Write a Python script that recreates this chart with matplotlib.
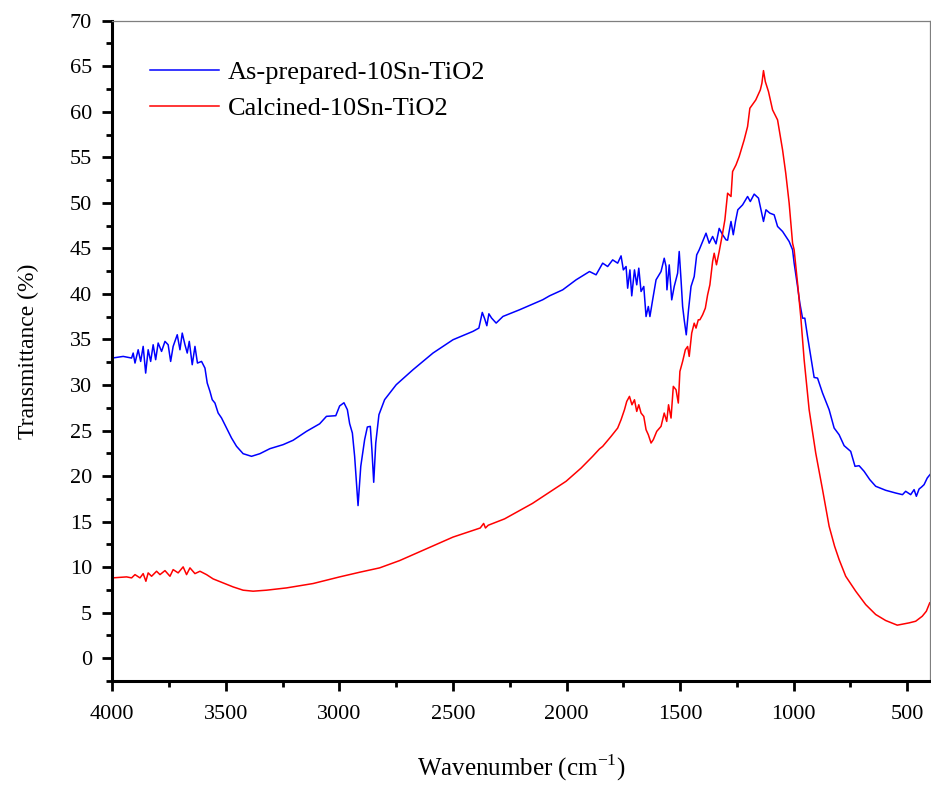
import matplotlib
matplotlib.use("Agg")
import matplotlib.pyplot as plt
from matplotlib.ticker import MultipleLocator

## FTIR spectra (wavenumber in cm-1, transmittance in %)
blue_wn = [4000, 3952, 3915, 3908, 3900, 3886, 3875, 3864, 3853, 3842, 3831, 3820,
           3809, 3798, 3783, 3768, 3754, 3743, 3732, 3714, 3702, 3692, 3680, 3670,
           3661, 3648, 3636, 3625, 3607, 3592, 3582, 3570, 3560, 3548, 3534, 3519,
           3497, 3475, 3453, 3424, 3387, 3350, 3306, 3248, 3204, 3145, 3087, 3057,
           3016, 2999, 2980, 2965, 2955, 2943, 2933, 2918, 2906, 2889, 2877, 2864,
           2857, 2849, 2840, 2826, 2801, 2750, 2676, 2588, 2500, 2412, 2386, 2371,
           2360, 2351, 2342, 2330, 2310, 2280, 2207, 2105, 2075, 2017, 1958, 1899,
           1870, 1841, 1819, 1797, 1775, 1760, 1750, 1738, 1731, 1721, 1713, 1701,
           1691, 1682, 1672, 1660, 1650, 1640, 1633, 1621, 1606, 1584, 1570, 1562,
           1558, 1548, 1537, 1526, 1511, 1504, 1496, 1489, 1482, 1473, 1463, 1452,
           1438, 1427, 1416, 1401, 1386, 1372, 1357, 1342, 1328, 1313, 1298, 1291,
           1276, 1266, 1256, 1246, 1225, 1203, 1191, 1174, 1155, 1133, 1122, 1105,
           1086, 1071, 1049, 1020, 1005, 998, 983, 973, 961, 951, 939, 925,
           910, 895, 873, 844, 822, 800, 778, 749, 730, 712, 690, 665,
           639, 595, 551, 521, 507, 485, 470, 460, 448, 437, 426, 412, 400]
blue_t = [32.96, 33.14, 32.96, 33.51, 32.41, 33.87, 32.59, 34.24, 31.31, 33.87, 32.59, 34.42,
          32.78, 34.61, 33.69, 34.79, 34.42, 32.59, 34.24, 35.52, 33.87, 35.70, 34.42, 33.51,
          34.79, 32.23, 34.24, 32.41, 32.59, 31.86, 30.22, 29.30, 28.39, 28.02, 26.93, 26.38,
          25.28, 24.18, 23.27, 22.46, 22.17, 22.46, 23.01, 23.45, 23.93, 24.91, 25.74, 26.56,
          26.63, 27.70, 28.05, 27.29, 25.76, 24.73, 22.17, 16.76, 21.07, 24.00, 25.39, 25.46,
          22.90, 19.32, 23.63, 26.74, 28.39, 30.03, 31.68, 33.51, 34.97, 35.89, 36.25, 37.97,
          37.24, 36.51, 37.82, 37.35, 36.80, 37.53, 38.26, 39.36, 39.79, 40.45, 41.55, 42.46,
          42.10, 43.38, 43.01, 43.74, 43.38, 44.18, 42.64, 43.01, 40.63, 42.64, 39.79, 42.64,
          41.00, 42.83, 40.27, 40.82, 37.52, 38.62, 37.52, 39.35, 41.55, 42.46, 43.92, 43.01,
          40.45, 43.19, 39.35, 40.82, 42.28, 44.66, 41.55, 38.62, 37.16, 35.51, 38.26, 40.82,
          41.91, 44.29, 44.84, 45.75, 46.67, 45.57, 46.31, 45.50, 47.20, 46.50, 45.94, 45.90,
          47.96, 46.50, 48.00, 49.24, 49.78, 50.70, 50.15, 50.96, 50.52, 47.96, 49.24, 48.87,
          48.69, 47.41, 46.86, 45.76, 44.85, 43.38, 40.82, 38.99, 37.34, 37.34, 35.33, 33.14,
          30.83, 30.76, 29.12, 27.29, 25.28, 24.54, 23.34, 22.71, 21.07, 21.14, 20.52, 19.61,
          18.88, 18.44, 18.14, 17.96, 18.33, 17.96, 18.51, 17.78, 18.58, 18.80, 19.06, 19.79, 20.16]

red_wn = [4000, 3937, 3915, 3900, 3878, 3864, 3852, 3842, 3827, 3805, 3790, 3768,
          3746, 3732, 3710, 3688, 3673, 3658, 3636, 3614, 3585, 3556, 3512, 3468,
          3424, 3380, 3321, 3233, 3116, 2999, 2911, 2823, 2735, 2600, 2500, 2380,
          2365, 2357, 2345, 2273, 2150, 2002, 1936, 1885, 1855, 1841, 1804, 1775,
          1760, 1745, 1735, 1723, 1712, 1701, 1691, 1682, 1672, 1660, 1650, 1640,
          1628, 1618, 1603, 1584, 1570, 1559, 1551, 1540, 1530, 1518, 1508, 1501,
          1489, 1477, 1467, 1460, 1449, 1438, 1430, 1420, 1413, 1401, 1389, 1379,
          1369, 1357, 1350, 1340, 1328, 1313, 1303, 1291, 1276, 1269, 1254, 1240,
          1218, 1203, 1193, 1167, 1147, 1140, 1133, 1125, 1111, 1093, 1071, 1049,
          1035, 1020, 1005, 998, 983, 969, 954, 932, 903, 873, 844, 820,
          800, 771, 727, 683, 639, 595, 544, 492, 463, 434, 416, 401]
red_t = [8.82, 8.93, 8.82, 9.18, 8.82, 9.29, 8.45, 9.37, 9.00, 9.55, 9.18, 9.62,
         9.00, 9.73, 9.37, 10.03, 9.18, 9.92, 9.29, 9.55, 9.18, 8.71, 8.27, 7.83,
         7.47, 7.36, 7.47, 7.72, 8.20, 8.93, 9.44, 9.92, 10.72, 12.20, 13.30, 14.30,
         14.80, 14.30, 14.60, 15.30, 17.00, 19.43, 20.88, 22.17, 22.98, 23.26, 24.36, 25.27,
         26.19, 27.29, 28.20, 28.75, 27.83, 28.38, 27.10, 27.83, 26.92, 26.55, 25.09, 24.54,
         23.63, 24.00, 24.91, 25.46, 26.92, 26.00, 27.83, 26.37, 29.85, 29.48, 28.02, 31.49,
         32.59, 33.87, 34.23, 33.14, 35.70, 36.79, 36.25, 37.16, 37.16, 37.71, 38.44, 39.90,
         41.00, 43.56, 44.47, 43.20, 44.66, 46.67, 48.13, 51.06, 50.70, 53.44, 54.17, 55.09,
         56.92, 58.38, 60.39, 61.30, 62.40, 63.13, 64.52, 63.32, 62.22, 60.21, 59.11, 55.82,
         53.26, 49.97, 45.58, 44.84, 41.18, 37.53, 32.77, 27.29, 22.53, 18.51, 14.49, 12.30,
         10.83, 9.00, 7.36, 5.89, 4.80, 4.14, 3.63, 3.88, 4.06, 4.61, 5.16, 6.08]

series_labels = ["As-prepared-10Sn-TiO2", "Calcined-10Sn-TiO2"]

plt.rcParams['font.family'] = ['Liberation Serif', 'DejaVu Serif']
plt.rcParams['mathtext.fontset'] = 'custom'
plt.rcParams['mathtext.rm'] = 'Liberation Serif'

fig = plt.figure(figsize=(9.31, 7.85), dpi=100)
ax = fig.add_axes([0.1206, 0.1325, 0.8783, 0.8411])

ax.plot(blue_wn, blue_t, color='#0000ff', lw=1.1, label=series_labels[0])
ax.plot(red_wn, red_t, color='#ff0000', lw=1.1, label=series_labels[1])

ax.set_xlim(4000, 400)
ax.set_ylim(-2.5, 70)

ax.xaxis.set_major_locator(MultipleLocator(500))
ax.xaxis.set_minor_locator(MultipleLocator(250))
ax.yaxis.set_major_locator(MultipleLocator(5))
ax.yaxis.set_minor_locator(MultipleLocator(2.5))

for side in ['left', 'bottom']:
    ax.spines[side].set_linewidth(2.2)
    ax.spines[side].set_color('black')
for side in ['top', 'right']:
    ax.spines[side].set_linewidth(0.9)
    ax.spines[side].set_color('#7f7f7f')

ax.tick_params(which='both', direction='out', top=False, right=False, width=2.0)
ax.tick_params(which='major', length=7.5, labelsize=16)
ax.tick_params(which='minor', length=4.5)
ax.tick_params(axis='x', which='major', pad=10)
ax.tick_params(axis='y', which='major', pad=7)

ax.set_xlabel('Wavenumber (cm$^{-1}$)', fontsize=18, labelpad=20)
ax.set_ylabel('Transmittance (%)', fontsize=17, labelpad=22)

ax.legend(loc='upper left', bbox_to_anchor=(0.046, 0.94), frameon=False,
          fontsize=19, handlelength=2.6, handletextpad=0.35,
          labelspacing=0.5, borderpad=0, borderaxespad=0)

fig.savefig('out.png', dpi=100)
